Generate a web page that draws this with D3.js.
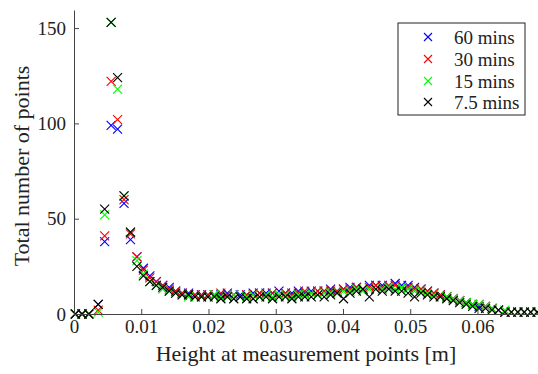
<!DOCTYPE html>
<html><head><meta charset="utf-8">
<script src="https://cdn.jsdelivr.net/npm/d3@7"></script>
<style>body{margin:0;background:#fff}svg{display:block}</style>
</head><body><svg id="c" width="538" height="374"><text id="xl" x="306" y="361" text-anchor="middle" font-family="Liberation Serif" font-size="22" fill="#222">Height at measurement points [m]</text></svg>
<script>
const xHeights = [0.0002,0.0012,0.0022,0.0036,0.00456,0.00552,0.00648,0.00744,0.0084,0.00936,
0.01032,0.01128,0.01224,0.0132,0.01416,0.01512,0.01608,0.01704,0.018,0.01896,
0.01992,0.02088,0.02184,0.0228,0.02376,0.02472,0.02568,0.02664,0.0276,0.02856,
0.02952,0.03048,0.03144,0.0324,0.03336,0.03432,0.03528,0.03624,0.0372,0.03816,
0.03912,0.04008,0.04104,0.042,0.04296,0.04392,0.04488,0.04584,0.0468,0.04776,
0.04872,0.04968,0.05064,0.0516,0.05256,0.05352,0.05448,0.05544,0.0564,0.05736,
0.05832,0.05928,0.06024,0.0612,0.06216,0.06312,0.06408,0.06504,0.066,0.06696,
0.06792,0.06888];
const seriesNames = ["60 mins","30 mins","15 mins","7.5 mins"];
const seriesColors = ["#0000ff","#ff0000","#00ff00","#000000"];
const s60 = [0,0,0,5,38,99,97,58,39,30,24,20,17,15,14,12,11,11,10,10,
10,10,10,11,10,10,10,11,11,11,11,12,11,11,12,11,12,12,12,13,
12,13,14,14,13,15,15,15,14,16,15,15,14,13,12,11,10,9,8,7,
6,5,4,4,3,2,1,1,1,1,1,1];
const s30 = [0,0,0,2,41,122,102,60,42,30,23,19,17,15,13,12,11,10,10,10,
10,10,11,10,10,9,10,10,11,10,11,10,11,10,11,12,11,12,12,12,
12,13,13,14,13,14,15,14,15,15,14,14,13,13,12,11,10,9,8,7,
6,5,5,4,3,2,1,1,1,1,1,1];
const s15 = [0,0,0,1,52,153,118,62,43,28,21,17,15,13,12,11,10,9,9,9,
9,10,9,9,10,9,9,10,9,10,9,10,10,9,10,10,11,10,11,11,
11,12,12,13,12,13,13,13,14,13,14,13,12,12,11,10,9,9,8,7,
6,5,5,4,3,2,2,1,1,1,1,1];
const s75 = [0,0,0,5,55,153,124,62,43,25,20,17,15,14,12,11,10,10,9,9,
9,9,8,9,8,9,8,8,9,9,8,9,9,8,9,9,9,10,9,10,
11,8,11,12,13,9,13,12,13,12,12,11,9,11,10,9,9,8,7,6,
5,4,3,3,2,2,1,1,1,1,1,1];
const seriesValues = [s60, s30, s15, s75];
const xTicks = [0,0.01,0.02,0.03,0.04,0.05,0.06];
const yTicks = [0,50,100,150];

const svg = d3.select("#c");
const FONT = "Liberation Serif";
const x = d3.scaleLinear().domain([0,0.069]).range([74,538]);
const y = d3.scaleLinear().domain([0,159.5]).range([314,10]);

const m = 4.5;
seriesValues.forEach((vals,si)=>{
  const g = svg.append("g");
  vals.forEach((v,i)=>{
    const cx = x(xHeights[i]), cy = y(v);
    g.append("path").attr("d",`M${cx-m},${cy-m}L${cx+m},${cy+m}M${cx-m},${cy+m}L${cx+m},${cy-m}`)
      .attr("stroke",seriesColors[si]).attr("stroke-width",1.1).attr("fill","none");
  });
});

const xa = svg.append("g").attr("transform","translate(0,314)")
  .call(d3.axisBottom(x).tickValues(xTicks).tickFormat(d=>d===0?"0":d3.format(".2f")(d)).tickSizeInner(-5).tickSizeOuter(0).tickPadding(6));
const ya = svg.append("g").attr("transform","translate(74,0)")
  .call(d3.axisLeft(y).tickValues(yTicks).tickSizeInner(-5).tickSizeOuter(0).tickPadding(8));
[xa,ya].forEach(a=>{
  a.attr("font-family",FONT).attr("font-size",19);
  a.selectAll("path,line").attr("stroke","#444").attr("stroke-width",1);
  a.selectAll("text").attr("fill","#222");
});

svg.append("text").attr("transform","translate(29,166) rotate(-90)").attr("text-anchor","middle")
  .attr("font-family",FONT).attr("font-size",22).attr("fill","#222").text("Total number of points");

const lg = svg.append("g").attr("font-family",FONT).attr("font-size",19);
lg.append("rect").attr("x",398).attr("y",23).attr("width",127).attr("height",92)
  .attr("fill","#fff").attr("stroke","#222").attr("stroke-width",1);
const rows = [37,59,81,102];
seriesNames.forEach((n,i)=>{
  const cx = 428, cy = rows[i], r = 4;
  lg.append("path").attr("d",`M${cx-r},${cy-r}L${cx+r},${cy+r}M${cx-r},${cy+r}L${cx+r},${cy-r}`)
    .attr("stroke",seriesColors[i]).attr("stroke-width",1.1);
  lg.append("text").attr("x",454).attr("y",cy+6.5).attr("fill","#222").text(n);
});
</script></body></html>
